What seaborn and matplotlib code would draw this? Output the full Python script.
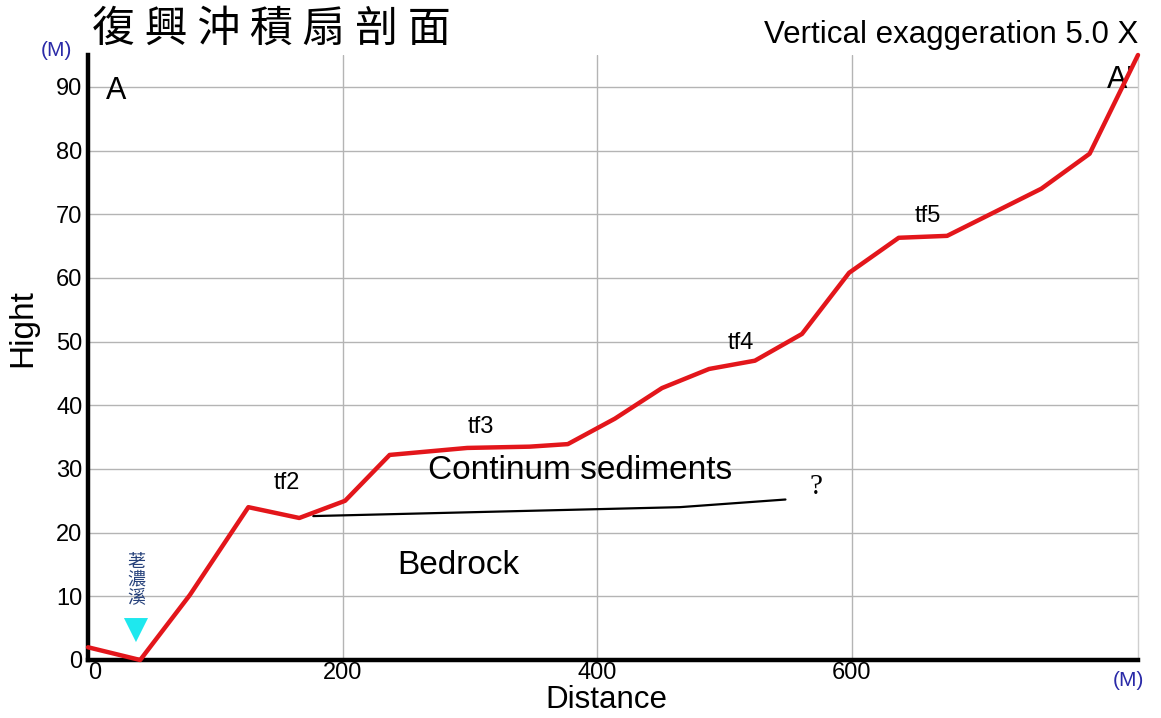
import matplotlib
matplotlib.use("Agg")
import matplotlib.pyplot as plt
import seaborn as sns
import pandas as pd

# Ground surface profile along the A - A' section (distance m, elevation m)
distance = [0, 41, 80, 126, 166, 202, 237, 298, 347, 377, 414, 451, 488, 524,
            561, 598, 637, 675, 749, 787, 825]
elevation = [2.0, 0.0, 10.2, 24.0, 22.3, 25.0, 32.2, 33.3, 33.5, 33.9, 37.9,
             42.7, 45.7, 47.0, 51.2, 60.8, 66.3, 66.6, 74.0, 79.5, 95.0]

# Inferred base of the sediments (top of bedrock)
bedrock_distance = [177, 465, 548]
bedrock_elevation = [22.6, 24.0, 25.2]

# Terrace labels
terrace_names = ["tf2", "tf3", "tf4", "tf5"]
terrace_x = [156, 309, 513, 660]
terrace_y = [26.0, 34.8, 48.0, 68.0]

# River location
river_name = "荖\n濃\n溪"
river_x = 37.7
river_y = 4.7

x_ticks = [0, 200, 400, 600]
y_ticks = [0, 10, 20, 30, 40, 50, 60, 70, 80, 90]

sns.set_theme(style="whitegrid")
plt.rcParams["font.family"] = ["Liberation Sans", "Noto Sans CJK TC", "DejaVu Sans"]
plt.rcParams.update({"text.color": "black", "axes.labelcolor": "black",
                     "xtick.color": "black", "ytick.color": "black"})

profile = pd.DataFrame({"distance": distance, "elevation": elevation})
bedrock = pd.DataFrame({"distance": bedrock_distance, "elevation": bedrock_elevation})

fig = plt.figure(figsize=(11.61, 7.18), dpi=100)
ax = fig.add_axes([88 / 1161, 1 - 660 / 718, (1138 - 88) / 1161, (660 - 55) / 718])

sns.lineplot(data=bedrock, x="distance", y="elevation", ax=ax, color="black",
             linewidth=1.6, zorder=3)
sns.lineplot(data=profile, x="distance", y="elevation", ax=ax, color="#e3161b",
             linewidth=3.2, zorder=4, clip_on=False)

ax.set_xlim(0, 825)
ax.set_ylim(0, 95)
ax.set_xticks(x_ticks)
ax.set_yticks(y_ticks)
ax.tick_params(axis="both", length=0, labelsize=17, colors="black", pad=4)
ax.tick_params(axis="x", pad=1.5)
for lab in ax.get_xticklabels():
    lab.set_horizontalalignment("left" if lab.get_text() == "0" else "center")

ax.grid(True, color="#b4b4b4", linewidth=1.0)
ax.set_axisbelow(True)
for side in ["left", "bottom"]:
    ax.spines[side].set_color("black")
    ax.spines[side].set_linewidth(3.2)
ax.spines["right"].set_color("#cfcfcf")
ax.spines["right"].set_linewidth(1.0)
ax.spines["top"].set_visible(False)

ax.set_xlabel("Distance", fontsize=22.5)
ax.set_ylabel("Hight", fontsize=24)
ax.xaxis.set_label_coords(0.494, -0.0405)
ax.yaxis.set_label_coords(-0.047, 0.549)

# Labels on the section
for name, tx, ty in zip(terrace_names, terrace_x, terrace_y):
    ax.text(tx, ty, name, fontsize=17, ha="center", va="bottom")

ax.text(387, 29.8, "Continum sediments", fontsize=24, ha="center", va="center")
ax.text(291, 14.9, "Bedrock", fontsize=24, ha="center", va="center")
ax.text(572, 27.2, "?", fontsize=21, ha="center", va="center",
        family=["Liberation Serif", "DejaVu Serif"])
ax.text(14, 89.3, "A", fontsize=22, ha="left", va="center")
ax.text(821, 91.0, "A'", fontsize=22, ha="right", va="center")

ax.scatter([river_x], [river_y], marker="v", s=300, color="#1ee8ee",
           edgecolors="none", zorder=5)
ax.text(river_x, 12.6, river_name, fontsize=13, color="#25407a", ha="center",
        va="center", linespacing=1.0, family=["Noto Sans CJK TC", "DejaVu Sans"])

# Title, scale note and unit marks
fig.text(92 / 1161, 1 - 30 / 718, "復 興 沖 積 扇 剖 面", fontsize=31, ha="left",
         va="center", family=["Noto Sans CJK TC", "DejaVu Sans"])
fig.text(1138 / 1161, 1 - 35 / 718, "Vertical exaggeration 5.0 X", fontsize=22.5,
         ha="right", va="center")
fig.text(56 / 1161, 1 - 51 / 718, "(M)", fontsize=15, color="#2a2aa8",
         ha="center", va="center")
fig.text(1128 / 1161, 1 - 680 / 718, "(M)", fontsize=15, color="#2a2aa8",
         ha="center", va="center")

fig.savefig("out.png", dpi=100)
